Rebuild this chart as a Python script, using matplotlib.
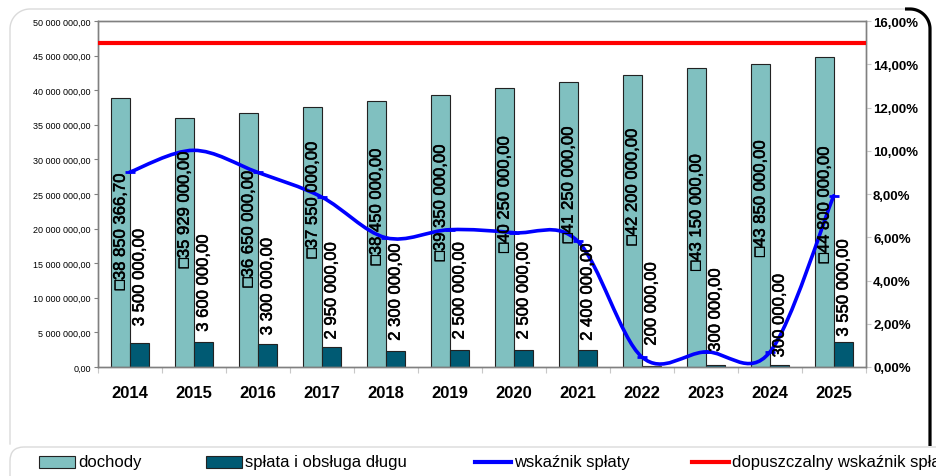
import matplotlib
matplotlib.use('Agg')
import matplotlib.pyplot as plt
import matplotlib.patheffects as pe
import numpy as np
from matplotlib.path import Path
from matplotlib.patches import PathPatch, Rectangle, FancyBboxPatch
from matplotlib.ticker import FuncFormatter, FixedLocator

# ---------------- data ----------------
years = ['2014', '2015', '2016', '2017', '2018', '2019',
         '2020', '2021', '2022', '2023', '2024', '2025']
dochody = [38850366.70, 35929000.00, 36650000.00, 37550000.00, 38450000.00, 39350000.00,
           40250000.00, 41250000.00, 42200000.00, 43150000.00, 43850000.00, 44800000.00]
splata = [3500000.00, 3600000.00, 3300000.00, 2950000.00, 2300000.00, 2500000.00,
          2500000.00, 2400000.00, 200000.00, 300000.00, 300000.00, 3550000.00]
wskaznik = [9.01, 10.02, 9.00, 7.86, 5.98, 6.35, 6.21, 5.82, 0.47, 0.70, 0.68, 7.92]
dopuszczalny = 15.0
legend_labels = ['dochody', 'spłata i obsługa długu', 'wskaźnik spłaty',
                 'dopuszczalny wskaźnik spłaty']

# label placement (centre of rotated label, left-axis units in millions)
dochody_label_y = [19.5, 22.7, 19.9, 24.1, 23.1, 23.7, 24.9, 26.3, 26.0, 22.3, 24.3, 23.4]
splata_label_y = [12.9, 12.1, 11.6, 11.0, 10.8, 11.0, 11.0, 10.8, 9.1, 8.2, 7.4, 11.4]

# ---------------- style ----------------
C_DOCH = '#80C0C0'
C_SPL = '#005A73'
C_BLUE = '#0000FF'
C_RED = '#FF0000'
FONT = ['Liberation Sans', 'DejaVu Sans']
plt.rcParams['font.family'] = FONT

W, H = 936, 477
fig = plt.figure(figsize=(W / 100, H / 100), dpi=100)
fig.patch.set_facecolor('white')


def px_rect(l, t, r, b):
    return [l / W, 1 - b / H, (r - l) / W, (b - t) / H]


def fmt_money(v):
    s = f"{v:,.2f}"
    return s.replace(',', 'X').replace('.', ',').replace('X', ' ')


# ---------------- decoration (chart frame) ----------------
deco = fig.add_axes([0, 0, 1, 1], zorder=0)
deco.set_xlim(0, W)
deco.set_ylim(H, 0)
deco.axis('off')
r = 20
a = np.linspace(0, np.pi / 2, 30)
deco.plot(np.concatenate([[10], 30 - r * np.cos(a), [912]]),
          np.concatenate([[445], 30 - r * np.sin(a), [10]]),
          color='#DADADA', lw=1)
deco.plot(np.concatenate([[905], 910 + r * np.sin(a), [930]]),
          np.concatenate([[10], 30 - r * np.cos(a), [447]]),
          color='black', lw=2.3, solid_capstyle='butt')
deco.add_patch(FancyBboxPatch((10, 448), 1000, 60,
                              boxstyle='round,pad=0,rounding_size=14',
                              fc='none', ec='#DADADA', lw=1))

# legend (manual)
ly = 463
deco.add_patch(Rectangle((39, ly - 6), 36, 12, fc=C_DOCH, ec='#222222', lw=0.8))
deco.text(78, ly, legend_labels[0], fontsize=12, va='center', ha='left')
deco.add_patch(Rectangle((206, ly - 6), 36, 12, fc=C_SPL, ec='#222222', lw=0.8))
deco.text(245, ly, legend_labels[1], fontsize=12, va='center', ha='left')
deco.plot([475, 511], [ly, ly], color=C_BLUE, lw=3)
deco.text(514, ly, legend_labels[2], fontsize=12, va='center', ha='left')
deco.plot([692, 729], [ly, ly], color=C_RED, lw=3)
deco.text(732, ly, legend_labels[3], fontsize=12, va='center', ha='left')

# ---------------- main axes ----------------
ax = fig.add_axes(px_rect(97.7, 22, 865.7, 368), zorder=1)
n = len(years)
x = np.arange(n)
bw = 0.297
ax.bar(x - bw / 2, dochody, width=bw, color=C_DOCH, edgecolor='#222222', linewidth=0.8, zorder=2)
ax.bar(x + bw / 2, splata, width=bw, color=C_SPL, edgecolor='#222222', linewidth=0.8, zorder=2)
ax.set_xlim(-0.5, n - 0.5)
ax.set_ylim(0, 50e6)

ax.yaxis.set_major_locator(FixedLocator(np.arange(0, 50e6 + 1, 5e6)))
ax.yaxis.set_major_formatter(FuncFormatter(lambda v, p: fmt_money(v)))
ax.tick_params(axis='y', direction='out', length=3, width=0.8, color='#808080',
               labelsize=6.5, pad=2)
ax.set_xticks(x)
ax.set_xticklabels(years, fontsize=12, fontweight='bold')
ax.set_xticks(np.arange(-0.5, n, 1.0), minor=True)
ax.tick_params(axis='x', which='major', length=0, pad=13)
ax.tick_params(axis='x', which='minor', length=4, color='#C8C8C8', width=0.8)

ax2 = ax.twinx()
ax2.set_ylim(0, 16)
ax2.yaxis.set_major_locator(FixedLocator(np.arange(0, 17, 2)))
ax2.yaxis.set_major_formatter(FuncFormatter(lambda v, p: f"{v:.2f}".replace('.', ',') + '%'))
ax2.tick_params(axis='y', direction='out', length=3.6, width=0.8, color='#C8C8C8',
                labelsize=9.5, pad=1.7)
for lab in ax2.get_yticklabels():
    lab.set_fontweight('bold')

for axx in (ax, ax2):
    for sp in axx.spines.values():
        sp.set_color('#808080')
        sp.set_linewidth(1.0)

# allowed ratio line
ax2.axhline(dopuszczalny, color=C_RED, lw=3, zorder=3)

# smoothed ratio line (Excel-style bezier smoothing)
ys = np.array(wskaznik, dtype=float)
xs = x.astype(float)
verts = [(xs[0], ys[0])]
codes = [Path.MOVETO]
for i in range(n - 1):
    p0 = np.array([xs[i], ys[i]])
    p3 = np.array([xs[i + 1], ys[i + 1]])
    pm = np.array([xs[i - 1], ys[i - 1]]) if i > 0 else p0
    pn = np.array([xs[i + 2], ys[i + 2]]) if i + 2 < n else p3
    c1 = p0 + (p3 - pm) / 6.0
    c2 = p3 - (pn - p0) / 6.0
    verts += [tuple(c1), tuple(c2), tuple(p3)]
    codes += [Path.CURVE4] * 3
ax2.add_patch(PathPatch(Path(verts, codes), fc='none', ec=C_BLUE, lw=2.6,
                        capstyle='round', joinstyle='round', zorder=4))
ax2.plot(xs, ys, ls='none', marker='_', ms=7, mew=2, color=C_BLUE, zorder=4)

# data labels
thick = [pe.withStroke(linewidth=0.4, foreground='black')]
for i in range(n):
    ax2.text(x[i] - bw / 2, dochody_label_y[i] * 1e6, '□' + fmt_money(dochody[i]),
             transform=ax.transData, rotation=90, ha='center', va='center',
             fontsize=12, zorder=6, family=FONT, path_effects=thick)
    ax2.text(x[i] + bw / 2, splata_label_y[i] * 1e6, fmt_money(splata[i]),
             transform=ax.transData, rotation=90, ha='center', va='center',
             fontsize=12, zorder=6, family=FONT, path_effects=thick)

fig.savefig('out.png', dpi=100)
